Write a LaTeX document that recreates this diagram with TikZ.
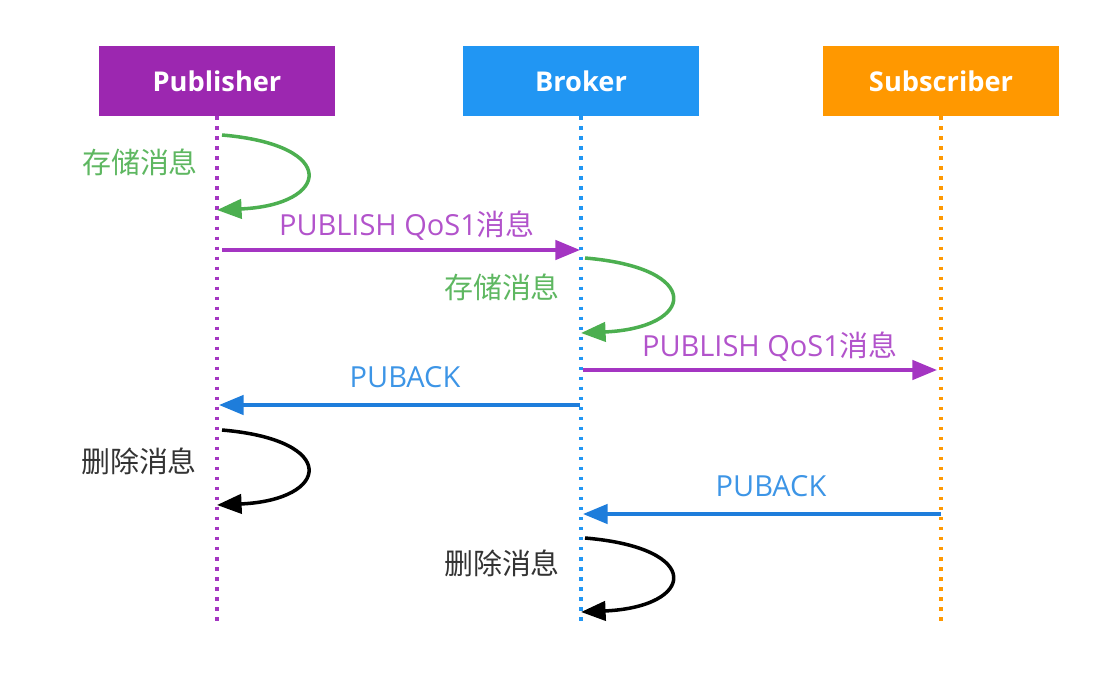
\documentclass[tikz,border=0pt]{standalone}
\usepackage{fontspec}
\setmainfont{Open Sans}
\newfontfamily\cjk{Noto Sans CJK SC}
\usetikzlibrary{arrows.meta}
\definecolor{pubcol}{HTML}{9C27B0}
\definecolor{brkcol}{HTML}{2196F3}
\definecolor{subcol}{HTML}{FF9800}
\definecolor{pubmsg}{HTML}{A435C2}
\definecolor{acktxt}{HTML}{3D95E6}
\definecolor{ackcol}{HTML}{1E7DDB}
\definecolor{savecol}{HTML}{4CAF50}

\begin{document}
\begin{tikzpicture}[x=0.02cm,y=-0.02cm,
    box/.style={minimum width=4.72cm,minimum height=1.4cm,inner sep=0pt,text=white,font=\bfseries\fontsize{15.5}{18}\selectfont},
    life/.style={line width=2pt,dash pattern=on 2pt off 3.7pt},
    msg/.style={line width=2pt,-{Triangle[length=14pt,width=11pt]}},
    lbl/.style={font=\fontsize{16.5}{19}\selectfont}]
    \useasboundingbox (0,0) rectangle (1111,679);
    \node[box,fill=pubcol] (pub) at (217,81) {Publisher}; % headers
    \node[box,fill=brkcol] (brk) at (581,81) {Broker};
    \node[box,fill=subcol] (sub) at (941,81) {Subscriber};
    \coordinate (pubend) at (217,625); % lifelines
    \coordinate (brkend) at (581,625);
    \coordinate (subend) at (941,625);
    \draw[life,pubmsg] (pub.south) -- (pubend);
    \draw[life,brkcol] (brk.south) -- (brkend);
    \draw[life,subcol] (sub.south) -- (subend);
    % publisher stores
    \coordinate (ps1) at (222,135);
    \coordinate (pe1) at (217,210);
    \draw[msg,savecol] (ps1) .. controls (340,145) and (330,205) .. (pe1);
    \node[lbl,text=savecol!90] (psave) at (140,162) {\cjk 存储消息};
    % publish to broker
    \coordinate (p1) at (222,250);
    \coordinate (b1) at (580,250);
    \draw[msg,pubmsg] (p1) -- (b1);
    \node[lbl,text=pubmsg!85] (m1) at (407,226) {PUBLISH QoS1{\cjk 消息}};
    % broker stores
    \coordinate (bs1) at (585,258);
    \coordinate (be1) at (581,333);
    \draw[msg,savecol] (bs1) .. controls (705,268) and (695,328) .. (be1);
    \node[lbl,text=savecol!90] (bsave) at (502,287) {\cjk 存储消息};
    % publish to subscriber
    \coordinate (b2) at (583,370);
    \coordinate (s2) at (937,370);
    \draw[msg,pubmsg] (b2) -- (s2);
    \node[lbl,text=pubmsg!85] (m2) at (770,347) {PUBLISH QoS1{\cjk 消息}};
    % puback to publisher
    \coordinate (b3) at (580,405);
    \coordinate (p3) at (219,405);
    \draw[msg,ackcol] (b3) -- (p3);
    \node[lbl,text=acktxt] (a1) at (405,377) {PUBACK};
    % publisher deletes
    \coordinate (ps2) at (222,430);
    \coordinate (pe2) at (217,505);
    \draw[msg,black] (ps2) .. controls (340,440) and (330,500) .. (pe2);
    \node[lbl,text=black!80] (pdel) at (139,461) {\cjk 删除消息};
    % puback to broker
    \coordinate (s4) at (941,514);
    \coordinate (b4) at (583,514);
    \draw[msg,ackcol] (s4) -- (b4);
    \node[lbl,text=acktxt] (a2) at (771,486) {PUBACK};
    % broker deletes
    \coordinate (bs2) at (585,538);
    \coordinate (be2) at (581,612);
    \draw[msg,black] (bs2) .. controls (705,548) and (695,607) .. (be2);
    \node[lbl,text=black!80] (bdel) at (502,563) {\cjk 删除消息};
\end{tikzpicture}
\end{document}
